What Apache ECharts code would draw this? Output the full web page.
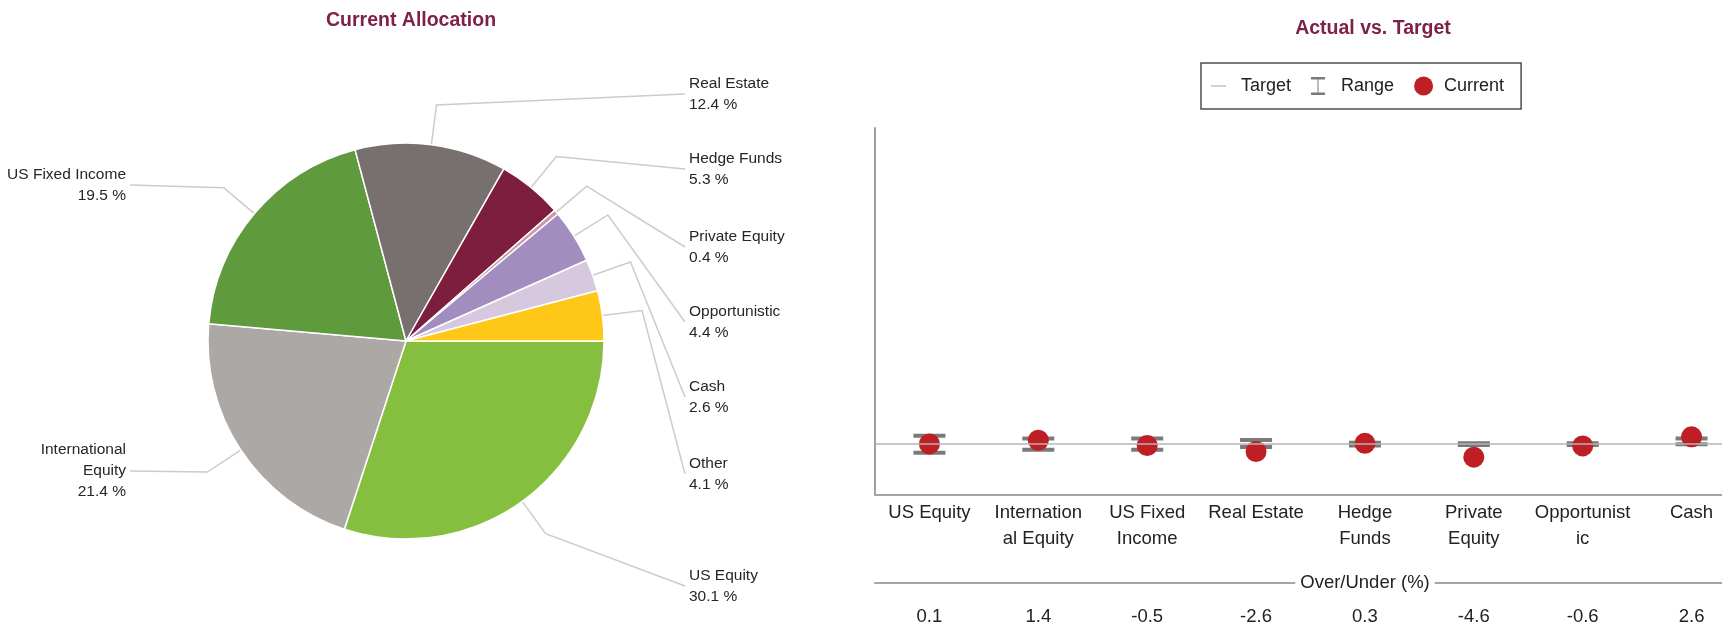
<!DOCTYPE html>
<html>
<head>
<meta charset="utf-8">
<title>Current Allocation / Actual vs. Target</title>
<script src="https://cdn.jsdelivr.net/npm/echarts@6/dist/echarts.min.js"></script>
<style>
  html, body { margin: 0; padding: 0; background: #fff; }
  #main { width: 1722px; height: 629px; }
</style>
</head>
<body>
<div id="main"></div>
<script>
// current allocation, % of total (clockwise from 3 o'clock)
var allocNames = ['US Equity', 'International\nEquity', 'US Fixed Income', 'Real Estate', 'Hedge Funds',
  'Private Equity', 'Opportunistic', 'Cash', 'Other'];
var allocValues = [30.1, 21.4, 19.5, 12.4, 5.3, 0.4, 4.4, 2.6, 4.1];

// actual vs target, over/under target in %
var classNames = ['US Equity', 'Internation\nal Equity', 'US Fixed\nIncome', 'Real Estate', 'Hedge\nFunds',
  'Private\nEquity', 'Opportunist\nic', 'Cash'];
var overUnder = [0.1, 1.4, -0.5, -2.6, 0.3, -4.6, -0.6, 2.6];
var rangeLow = [-3, -2, -2, -1, -0.5, -0.3, -0.3, 0];
var rangeHigh = [3, 2, 2, 1.5, 0.5, 0.3, 0.3, 2];
var targetLevel = 0;

var sliceColors = ['#86BF3F', '#ABA8A6', '#5F9A3C', '#77706E', '#7D1E3E', '#C99AAA', '#A28DBF', '#D6C8DF', '#FFC718'];
var FONT = "'Liberation Sans', Arial, sans-serif";
var titleColor = '#7D2148';
var dotColor = '#BE1E24';
var barColor = '#7A7A7A';
var textColor = '#222';

// where each pie label sits: side of the pie and vertical centre
var labelSpots = {
  0: ['right', 586], 1: ['left', 471], 2: ['left', 185], 3: ['right', 94], 4: ['right', 169],
  5: ['right', 247], 6: ['right', 322], 7: ['right', 397], 8: ['right', 474]
};

var chart = echarts.init(document.getElementById('main'));

chart.setOption({
  animation: false,
  title: [
    {
      text: 'Current Allocation', left: 406, top: 6, textAlign: 'center',
      textStyle: { fontSize: 19.5, fontWeight: 'bold', color: titleColor, fontFamily: FONT }
    },
    {
      text: 'Actual vs. Target', left: 1368, top: 14, textAlign: 'center',
      textStyle: { fontSize: 19.5, fontWeight: 'bold', color: titleColor, fontFamily: FONT }
    }
  ],
  legend: {
    left: 1201, top: 63,
    padding: [13, 17, 13, 10],
    borderColor: '#4D4D4D', borderWidth: 1.5,
    itemWidth: 25, itemHeight: 20, itemGap: 20,
    textStyle: { fontSize: 18, color: textColor, fontFamily: FONT },
    data: [
      { name: 'Target', icon: 'path://M0,9.25h15v1.5h-15z M25,0 M25,20', itemStyle: { color: '#B4B4B4' } },
      { name: 'Range', icon: 'path://M0,1h14v2.5h-14z M6.5,3h1v14h-1z M0,16.5h14v2.5h-14z M25,0 M25,20', itemStyle: { color: barColor } },
      { name: 'Current', icon: 'path://M0,10a9.5,9.5 0 1,0 19,0a9.5,9.5 0 1,0 -19,0z M25,0 M25,20', itemStyle: { color: dotColor } }
    ]
  },
  // heading of the over/under row, sitting on the separator line
  graphic: [
    {
      type: 'text', x: 1365, y: 583, z: 100,
      style: {
        text: 'Over/Under (%)', align: 'center', verticalAlign: 'middle',
        backgroundColor: '#fff', padding: [2, 5],
        fontSize: 18.5, fill: textColor, fontFamily: FONT
      }
    }
  ],
  grid: { left: 875, top: 128, right: -24, bottom: 134, outerBoundsMode: 'none' },
  xAxis: [
    {
      type: 'category',
      data: classNames,
      axisLine: { onZero: false, lineStyle: { color: '#A6A6A6', width: 2 } },
      axisTick: { show: false },
      axisLabel: { interval: 0, fontSize: 18.5, lineHeight: 26, color: textColor, margin: 5, fontFamily: FONT }
    },
    {
      type: 'category',
      position: 'bottom',
      offset: 88,
      data: overUnder.map(function (v) { return v.toFixed(1); }),
      axisLine: { onZero: false, lineStyle: { color: '#A6A6A6', width: 2 } },
      axisTick: { show: false },
      axisLabel: { interval: 0, fontSize: 18.5, color: textColor, margin: 24, fontFamily: FONT }
    }
  ],
  yAxis: {
    type: 'value',
    min: -18, max: 112,
    axisLine: { show: true, lineStyle: { color: '#A0A0A0', width: 2 } },
    axisTick: { show: false },
    axisLabel: { show: false },
    splitLine: { show: false }
  },
  series: [
    {
      type: 'pie',
      center: [406, 341],
      radius: 198,
      startAngle: 0,
      clockwise: true,
      avoidLabelOverlap: false,
      color: sliceColors,
      data: allocNames.map(function (n, i) { return { name: n, value: allocValues[i] }; }),
      itemStyle: { borderColor: '#fff', borderWidth: 1.5 },
      emphasis: { disabled: true },
      label: {
        formatter: '{b}\n{c} %',
        fontSize: 15.5, lineHeight: 21, color: '#262626', fontFamily: FONT
      },
      labelLine: { show: true, length: 40, length2: 10, lineStyle: { color: '#CCCCCC', width: 1.5 } },
      labelLayout: function (p) {
        var spot = labelSpots[p.dataIndex];
        var right = spot[0] === 'right';
        var x = right ? 689 : 126;
        var pts = p.labelLinePoints;
        return {
          x: x, y: spot[1],
          align: right ? 'left' : 'right',
          verticalAlign: 'middle',
          labelLinePoints: [pts[0], pts[1], [right ? x - 4 : x + 4, spot[1]]]
        };
      }
    },
    {
      type: 'scatter',
      name: 'Target',
      data: [],
      itemStyle: { color: '#B4B4B4' },
      markLine: {
        silent: true,
        symbol: 'none',
        label: { show: false },
        lineStyle: { color: '#B4B4B4', width: 1.5, type: 'solid' },
        data: [{ yAxis: targetLevel }]
      },
      z: 1
    },
    {
      type: 'custom',
      name: 'Range',
      itemStyle: { color: barColor },
      data: classNames.map(function (c, i) { return [i, rangeLow[i], rangeHigh[i]]; }),
      encode: { x: 0, y: [1, 2] },
      renderItem: function (params, api) {
        var lo = api.coord([api.value(0), api.value(1)]);
        var hi = api.coord([api.value(0), api.value(2)]);
        var half = 16;
        return {
          type: 'group',
          children: [
            { type: 'line', shape: { x1: lo[0], y1: lo[1], x2: hi[0], y2: hi[1] }, style: { stroke: barColor, lineWidth: 1 } },
            { type: 'rect', shape: { x: lo[0] - half, y: lo[1] - 2, width: half * 2, height: 4 }, style: { fill: barColor } },
            { type: 'rect', shape: { x: hi[0] - half, y: hi[1] - 2, width: half * 2, height: 4 }, style: { fill: barColor } }
          ]
        };
      },
      z: 3
    },
    {
      type: 'scatter',
      name: 'Current',
      data: overUnder,
      symbolSize: 21,
      itemStyle: { color: dotColor, opacity: 1 },
      z: 4
    }
  ]
});
</script>
</body>
</html>
